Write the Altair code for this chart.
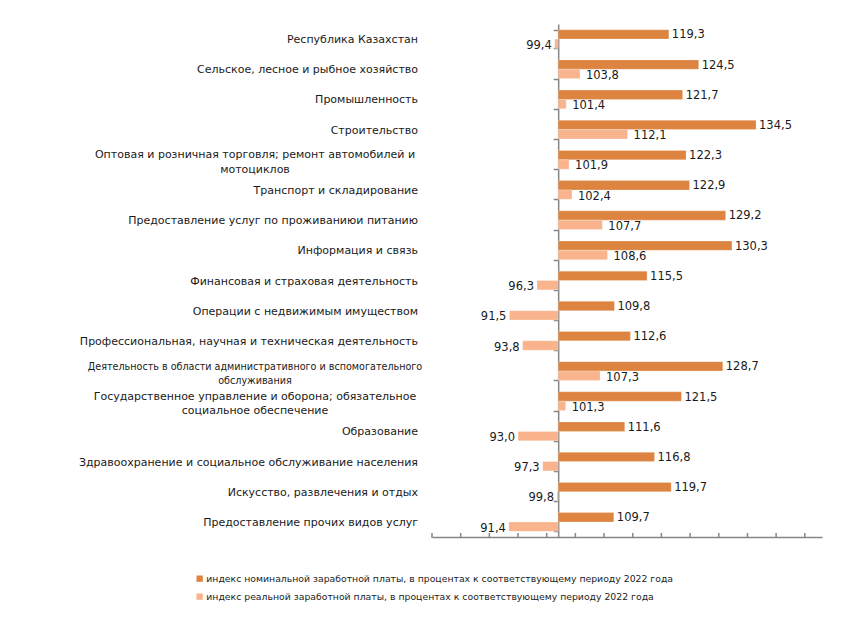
import altair as alt
import pandas as pd

categories = [
    "Республика Казахстан",
    "Сельское, лесное и рыбное хозяйство",
    "Промышленность",
    "Строительство",
    "Оптовая и розничная торговля; ремонт автомобилей и|мотоциклов",
    "Транспорт и складирование",
    "Предоставление услуг по проживаниюи питанию",
    "Информация и связь",
    "Финансовая и страховая деятельность",
    "Операции с недвижимым имуществом",
    "Профессиональная, научная и техническая деятельность",
    "Деятельность в области административного и вспомогательного|обслуживания",
    "Государственное управление и оборона; обязательное|социальное обеспечение",
    "Образование",
    "Здравоохранение и социальное обслуживание населения",
    "Искусство, развлечения и отдых",
    "Предоставление прочих видов услуг",
]
nominal = [119.3, 124.5, 121.7, 134.5, 122.3, 122.9, 129.2, 130.3, 115.5, 109.8,
           112.6, 128.7, 121.5, 111.6, 116.8, 119.7, 109.7]
real = [99.4, 103.8, 101.4, 112.1, 101.9, 102.4, 107.7, 108.6, 96.3, 91.5,
        93.8, 107.3, 101.3, 93.0, 97.3, 99.8, 91.4]
series_names = [
    "индекс номинальной заработной платы, в процентах к соответствующему периоду 2022 года",
    "индекс реальной заработной платы, в процентах к соответствующему периоду 2022 года",
]
colors = ["#DD8440", "#F9B48E"]
x_ticks = list(range(78, 144, 5))
x_domain = [78, 146]
base_value = 100

rows = []
for c, n, r in zip(categories, nominal, real):
    rows.append({"cat": c, "series": series_names[0], "value": n})
    rows.append({"cat": c, "series": series_names[1], "value": r})
df = pd.DataFrame(rows)
df["label"] = df["value"].map(lambda v: f"{v:.1f}".replace(".", ","))
cat_df = pd.DataFrame({"cat": categories})
tick_df = pd.DataFrame({"t": x_ticks})

W, H = 390, 513
FONT = "DejaVu Sans"
AXIS_GRAY = "#868686"

y_scale = alt.Scale(domain=categories, paddingInner=0.38, paddingOuter=0.19)
yoff = alt.YOffset("series:N", scale=alt.Scale(domain=series_names, paddingInner=0, paddingOuter=0))
x_scale = alt.Scale(domain=x_domain, nice=False, zero=False)

bars = alt.Chart(df).mark_bar(stroke="#ffffff", strokeWidth=0.4, strokeOpacity=0.6).encode(
    x=alt.X("value:Q", scale=x_scale, axis=alt.Axis(
        orient="bottom", labels=False, ticks=False, title=None, grid=False,
        domainColor=AXIS_GRAY, domainWidth=1.5)),
    x2=alt.datum(base_value),
    y=alt.Y("cat:N", sort=categories, scale=y_scale, axis=alt.Axis(
        orient="left", offset=-(base_value - x_domain[0]) / (x_domain[1] - x_domain[0]) * W,
        labels=False, title=None, grid=False, tickBand="extent", tickSize=5,
        domainColor=AXIS_GRAY, tickColor=AXIS_GRAY, domainWidth=1.5, tickWidth=1.5)),
    yOffset=yoff,
    color=alt.Color("series:N", scale=alt.Scale(domain=series_names, range=colors),
                    legend=alt.Legend(orient="none", legendX=-237, legendY=550, title=None,
                                      direction="vertical", symbolType="square", symbolSize=40,
                                      symbolStrokeWidth=0, labelFont=FONT, labelFontSize=9.3,
                                      labelColor="#222222", labelLimit=0, rowPadding=8,
                                      labelOffset=2)),
)

ticks = alt.Chart(tick_df).mark_rule(color=AXIS_GRAY, strokeWidth=1.5).encode(
    x=alt.X("t:Q", scale=x_scale), y=alt.value(H - 4), y2=alt.value(H + 1))

lab_common = dict(baseline="middle", font=FONT, fontSize=11.5, color="#1a1a1a")

nom_labels = alt.Chart(df).transform_filter(
    alt.datum.series == series_names[0]
).mark_text(align="left", dx=3, dy=1, **lab_common).encode(
    x=alt.X("value:Q", scale=x_scale), y=alt.Y("cat:N", sort=categories, scale=y_scale),
    yOffset=yoff, text="label:N")

real_hi = alt.Chart(df).transform_filter(
    (alt.datum.series == series_names[1]) & (alt.datum.value >= base_value)
).mark_text(align="left", dx=6, dy=2, **lab_common).encode(
    x=alt.X("value:Q", scale=x_scale), y=alt.Y("cat:N", sort=categories, scale=y_scale),
    yOffset=yoff, text="label:N")

real_lo = alt.Chart(df).transform_filter(
    (alt.datum.series == series_names[1]) & (alt.datum.value < base_value)
).mark_text(align="right", dx=-3, dy=2, **lab_common).encode(
    x=alt.X("value:Q", scale=x_scale), y=alt.Y("cat:N", sort=categories, scale=y_scale),
    yOffset=yoff, text="label:N")

cat_single = alt.Chart(cat_df).transform_filter(
    "indexof(datum.cat, '|') < 0"
).mark_text(align="right", baseline="middle", font=FONT, fontSize=11, color="#1a1a1a", dy=1).encode(
    x=alt.value(-14), y=alt.Y("cat:N", sort=categories, scale=y_scale), text="cat:N")

cat_multi = alt.Chart(cat_df).transform_filter(
    "indexof(datum.cat, '|') >= 0"
).mark_text(align="center", baseline="middle", font=FONT, color="#1a1a1a",
            lineBreak="|", lineHeight=14.5, dy=-4.5).encode(
    x=alt.value(-177), y=alt.Y("cat:N", sort=categories, scale=y_scale), text="cat:N",
    size=alt.condition("indexof(datum.cat, '|') > 56", alt.value(9.6), alt.value(11)))

chart = alt.layer(bars, ticks, nom_labels, real_hi, real_lo, cat_single, cat_multi).properties(
    width=W, height=H,
    autosize=alt.AutoSizeParams(type="none"),
    padding={"left": 424, "top": 16, "right": 28, "bottom": 70},
).configure_view(stroke="transparent", strokeWidth=0)

chart.save("out.html", embed_options={"renderer": "svg", "actions": False})
